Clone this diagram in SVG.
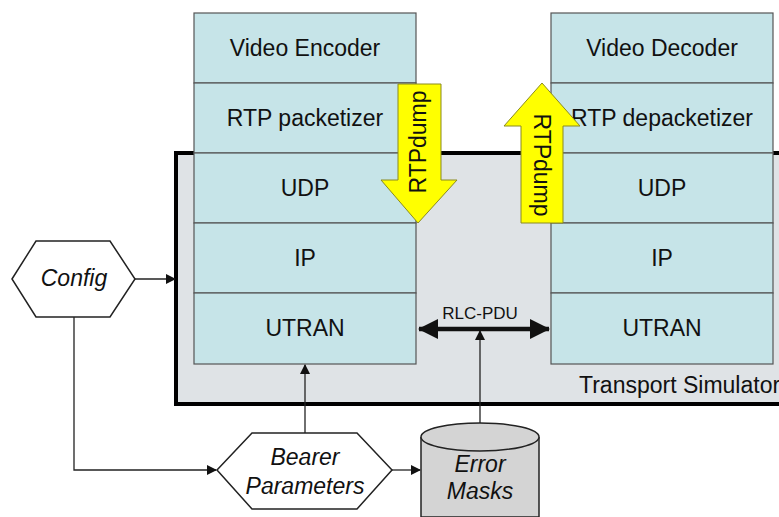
<svg xmlns="http://www.w3.org/2000/svg" width="779" height="517" viewBox="0 0 779 517">
<style>
.cell{fill:#c6e4e8;stroke:#555;stroke-width:1.2}
.t{font-family:"Liberation Sans",Arial,sans-serif;font-size:23px;fill:#111;text-anchor:middle}
.it{font-style:italic}
.ln{fill:none;stroke:#222;stroke-width:1.3}
.dump{fill:#ffff00;stroke:#8a8a20;stroke-width:1}
</style>
<defs>
<marker id="ah" markerWidth="10" markerHeight="10" refX="9" refY="5" orient="auto" markerUnits="userSpaceOnUse">
<path d="M0,0 L10,5 L0,10 z" fill="#111"/>
</marker>
<marker id="big" markerWidth="22" markerHeight="22" refX="19" refY="11" orient="auto-start-reverse" markerUnits="userSpaceOnUse">
<path d="M0,1 L20,11 L0,21 z" fill="#111"/>
</marker>
</defs>
<rect width="779" height="517" fill="#fff"/>
<g id="transport-simulator">
<rect x="176" y="153" width="640" height="251" fill="#dfe3e6" stroke="#000" stroke-width="4"/>
<text class="t" x="579" y="393" style="text-anchor:start">Transport Simulator</text>
</g>
<g id="sender-stack">
<rect class="cell" x="194" y="13" width="222" height="70"/>
<text class="t" x="305" y="56">Video Encoder</text>
<rect class="cell" x="194" y="83" width="222" height="70"/>
<text class="t" x="305" y="126">RTP packetizer</text>
<rect class="cell" x="194" y="153" width="222" height="70"/>
<text class="t" x="305" y="196">UDP</text>
<rect class="cell" x="194" y="223" width="222" height="70"/>
<text class="t" x="305" y="266">IP</text>
<rect class="cell" x="194" y="293" width="222" height="71"/>
<text class="t" x="305" y="336">UTRAN</text>
</g>
<g id="receiver-stack">
<rect class="cell" x="551" y="13" width="222" height="70"/>
<text class="t" x="662" y="56">Video Decoder</text>
<rect class="cell" x="551" y="83" width="222" height="70"/>
<text class="t" x="662" y="126">RTP depacketizer</text>
<rect class="cell" x="551" y="153" width="222" height="70"/>
<text class="t" x="662" y="196">UDP</text>
<rect class="cell" x="551" y="223" width="222" height="70"/>
<text class="t" x="662" y="266">IP</text>
<rect class="cell" x="551" y="293" width="222" height="71"/>
<text class="t" x="662" y="336">UTRAN</text>
</g>
<g id="rtpdump-send">
<path class="dump" d="M398,84 L441,84 L441,180 L457,180 L418,223 L381,180 L398,180 z"/>
<text class="t" transform="translate(426,142) rotate(-90)">RTPdump</text>
</g>
<g id="rtpdump-recv">
<path class="dump" d="M542,83 L580,126 L563,126 L563,223 L521,223 L521,126 L504,126 z"/>
<text class="t" transform="translate(534,165) rotate(90)">RTPdump</text>
</g>
<g id="config">
<path d="M12,279 L36,241 L110,241 L135,279 L110,317 L36,317 z" fill="#fff" stroke="#222" stroke-width="1.5"/>
<text class="t it" x="74" y="286">Config</text>
</g>
<g id="bearer-parameters">
<path d="M217,470 L252,433 L357,433 L392,470 L357,509 L252,509 z" fill="#fff" stroke="#222" stroke-width="1.5"/>
<text class="t it" x="305" y="465">Bearer</text>
<text class="t it" x="305" y="494">Parameters</text>
</g>
<g id="error-masks">
<path d="M421,437 L421,517 L539,517 L539,437" fill="#d4d4d4" stroke="#222" stroke-width="1.5"/>
<ellipse cx="480" cy="437" rx="59" ry="14" fill="#d4d4d4" stroke="#222" stroke-width="1.5"/>
<text class="t it" x="480" y="472">Error</text>
<text class="t it" x="480" y="499">Masks</text>
</g>
<g id="connectors">
<line class="ln" x1="135" y1="279" x2="175" y2="279" marker-end="url(#ah)"/>
<polyline class="ln" points="74,317 74,470 216,470" marker-end="url(#ah)"/>
<line class="ln" x1="392" y1="470" x2="420" y2="470" marker-end="url(#ah)"/>
<line class="ln" x1="305" y1="433" x2="305" y2="365" marker-end="url(#ah)"/>
<line class="ln" x1="480" y1="423" x2="480" y2="331" marker-end="url(#ah)"/>
<line x1="419" y1="329" x2="549" y2="329" stroke="#111" stroke-width="4.5" marker-start="url(#big)" marker-end="url(#big)"/>
<text class="t" x="480" y="319" style="font-size:17px">RLC-PDU</text>
</g>
</svg>
